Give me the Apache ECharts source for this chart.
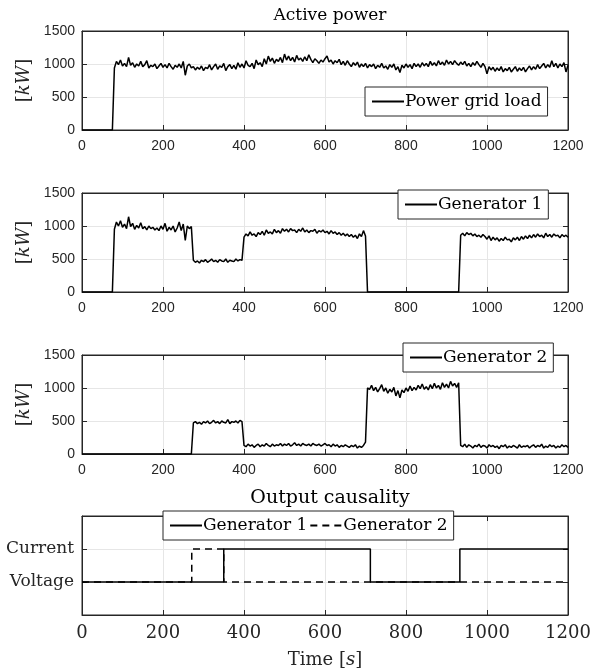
<html>
<head>
<meta charset="utf-8">
<script src="https://cdn.jsdelivr.net/npm/echarts@6/dist/echarts.min.js"></script>
<style>
  html, body, #main { width: 100%; height: 100%; margin: 0; background: #fff; }
</style>
</head>
<body>
<div id="main"></div>
<script>
// sampled every timeStep seconds, t = 0 .. 1200
var timeStep = 5;

var loadValues = [
  0,0,0,0,0,0,0,0,0,0,0,0,0,0,0,0,940,1040,990,1060,
  970,1010,960,1100,980,1020,950,1000,970,1040,960,990,1050,940,980,960,1000,930,970,1010,
  950,990,940,1010,960,920,980,950,1000,940,1040,830,970,1000,940,960,910,950,920,970,
  900,950,930,990,910,960,1000,920,970,950,1010,900,960,990,930,980,920,1020,950,1000,
  940,1050,980,960,1010,930,1060,990,1020,960,1080,1000,1120,1040,1090,1010,1070,1040,1100,1020,
  1150,1060,1120,1050,1100,1030,1130,1060,1090,1040,1110,1050,1140,1070,1020,1080,1050,1010,1060,1030,
  1080,1120,1030,1060,1000,1050,1020,1070,990,1040,980,1050,1000,960,1020,980,1030,950,1000,960,
  1010,940,990,960,1000,930,980,950,1010,940,970,920,990,950,1000,910,960,870,980,940,
  1000,950,990,930,1010,960,1000,950,1020,970,1010,960,1040,980,1020,970,1050,990,1030,980,
  1060,1000,1040,990,1050,1010,980,1030,990,1040,970,1010,960,1020,980,1040,990,950,1010,960,
  850,960,910,950,890,940,900,960,880,930,900,950,880,920,960,890,940,900,950,880,
  930,970,910,960,920,990,930,970,1010,940,990,950,1050,960,1010,940,1000,960,1020,880,
  980
];

var gen1Values = [
  0,0,0,0,0,0,0,0,0,0,0,0,0,0,0,0,950,1060,1000,1080,
  980,1030,960,1140,990,1040,950,1010,970,1050,960,990,940,1000,960,980,940,970,930,1000,
  950,1040,920,980,940,1000,910,970,1060,930,1030,780,1000,960,990,480,450,470,440,480,
  460,490,450,470,500,460,480,450,490,470,460,500,450,480,470,460,500,470,490,480,
  830,880,850,910,860,880,840,900,870,920,860,940,890,910,880,950,900,930,890,960,
  920,950,910,960,930,940,900,950,920,970,910,940,900,930,920,950,890,930,910,940,
  900,920,880,930,890,910,870,900,860,890,850,880,840,870,830,860,810,880,840,930,
  850,0,0,0,0,0,0,0,0,0,0,0,0,0,0,0,0,0,0,0,
  0,0,0,0,0,0,0,0,0,0,0,0,0,0,0,0,0,0,0,0,
  0,0,0,0,0,0,0,860,890,850,900,870,890,850,880,840,860,830,870,840,
  800,850,780,830,790,820,770,810,780,830,790,800,760,820,790,830,780,840,800,850,
  810,860,820,870,830,880,840,860,820,890,840,870,830,880,850,860,820,870,840,860,
  830
];

var gen2Values = [
  0,0,0,0,0,0,0,0,0,0,0,0,0,0,0,0,0,0,0,0,
  0,0,0,0,0,0,0,0,0,0,0,0,0,0,0,0,0,0,0,0,
  0,0,0,0,0,0,0,0,0,0,0,0,0,0,0,470,490,460,480,450,
  490,470,500,460,480,510,470,490,460,500,480,470,520,460,490,480,500,470,510,490,
  130,110,150,120,140,100,130,150,110,140,120,160,130,110,150,120,140,130,160,120,
  150,130,160,120,140,170,130,150,120,160,140,130,150,120,160,140,130,150,120,140,
  160,130,140,110,150,120,140,100,130,110,140,120,100,130,110,140,90,120,100,130,
  180,1000,980,1040,960,1010,940,990,1050,950,1000,920,980,940,1010,880,960,850,970,930,
  1000,950,1030,960,1010,970,1040,990,1060,980,1020,970,1050,990,1070,1000,1040,980,1080,1010,
  1060,1000,1100,1030,1070,1010,1080,130,110,150,100,140,120,90,130,110,150,100,130,120,
  90,140,110,130,100,120,80,130,110,140,90,120,100,130,110,90,140,100,120,110,
  130,90,120,140,100,130,110,150,90,120,100,140,110,130,90,120,100,140,110,130,
  100
];

// output causality: 0 = Voltage, 1 = Current (switch times in s)
var gen1CausTimes = [0, 350, 712, 933, 1200];
var gen1CausLevels = [0, 1, 0, 1, 1];
var gen2CausTimes = [0, 271, 350, 1200];
var gen2CausLevels = [0, 1, 0, 0];
var causalityLabels = ['Voltage', 'Current'];

var xTicks = [0, 1200, 200];
var powerTicks = [0, 1500, 500];

function sampled(values) {
  return values.map(function (v, i) { return [i * timeStep, v]; });
}
function zipped(ts, vs) {
  return ts.map(function (t, i) { return [t, vs[i]]; });
}
function plain(v) { return String(v); }

var ink = '#262626';
var serif = '"DejaVu Serif", "Liberation Serif", serif';
var sans = '"Liberation Sans", Arial, sans-serif';
var gridTops = [31, 193, 355, 516];

var grids = gridTops.map(function (t) {
  return { left: 82, width: 486, top: t, height: 99, show: true, borderColor: ink, borderWidth: 1, backgroundColor: '#fff' };
});

var tickStyle = { show: true, inside: true, length: 5, lineStyle: { color: ink } };
var lineStyleAx = { show: true, onZero: false, lineStyle: { color: ink } };

var xAxes = [], yAxes = [];
gridTops.forEach(function (t, g) {
  var last = g === 3;
  xAxes.push({
    type: 'value', gridIndex: g, min: xTicks[0], max: xTicks[1], interval: xTicks[2],
    axisLine: lineStyleAx, axisTick: tickStyle,
    splitLine: { lineStyle: { color: '#e6e6e6' } },
    axisLabel: last
      ? { color: ink, fontFamily: serif, fontSize: 18, margin: 9, formatter: plain }
      : { color: ink, fontFamily: sans, fontSize: 14, margin: 9, formatter: plain },
    name: last ? '{a|Time [}{b|s}{a|]}' : '',
    nameLocation: 'middle', nameGap: 36,
    nameTextStyle: { rich: {
      a: { fontFamily: serif, fontSize: 18, color: ink },
      b: { fontFamily: serif, fontSize: 18, fontStyle: 'italic', color: ink }
    } }
  });
  xAxes.push({
    type: 'value', gridIndex: g, position: 'top', min: xTicks[0], max: xTicks[1], interval: xTicks[2],
    axisLine: lineStyleAx, axisTick: tickStyle,
    splitLine: { show: false }, axisLabel: { show: false }
  });
  if (!last) {
    yAxes.push({
      type: 'value', gridIndex: g, min: powerTicks[0], max: powerTicks[1], interval: powerTicks[2],
      axisLine: lineStyleAx, axisTick: tickStyle,
      splitLine: { lineStyle: { color: '#e6e6e6' } },
      axisLabel: { color: ink, fontFamily: sans, fontSize: 14, margin: 7, formatter: plain },
      name: '[{b|kW}]', nameLocation: 'middle', nameGap: 46,
      nameTextStyle: { fontFamily: serif, fontSize: 18, color: ink, rich: {
        b: { fontFamily: serif, fontSize: 18, fontStyle: 'italic', color: ink }
      } }
    });
    yAxes.push({
      type: 'value', gridIndex: g, position: 'right', min: powerTicks[0], max: powerTicks[1], interval: powerTicks[2],
      axisLine: lineStyleAx, axisTick: tickStyle,
      splitLine: { show: false }, axisLabel: { show: false }
    });
  } else {
    yAxes.push({
      type: 'value', gridIndex: g, min: -1, max: 2, interval: 1,
      axisLine: lineStyleAx, axisTick: tickStyle,
      splitLine: { lineStyle: { color: '#e6e6e6' } },
      axisLabel: { color: ink, fontFamily: serif, fontSize: 17, margin: 8,
        formatter: function (v) { return causalityLabels[v] || ''; } }
    });
    yAxes.push({
      type: 'value', gridIndex: g, position: 'right', min: -1, max: 2, interval: 1,
      axisLine: lineStyleAx, axisTick: tickStyle,
      splitLine: { show: false }, axisLabel: { show: false }
    });
  }
});

function powerSeries(name, values, g) {
  return {
    name: name, type: 'line', xAxisIndex: g * 2, yAxisIndex: g * 2,
    data: sampled(values), symbol: 'none', animation: false,
    lineStyle: { color: '#000', width: 1.5 }, itemStyle: { color: '#000' }
  };
}

var legendBase = {
  orient: 'horizontal', backgroundColor: '#fff', borderColor: ink, borderWidth: 1,
  padding: [6, 6, 6, 6], itemWidth: 32, itemHeight: 10, itemGap: 2,
  itemStyle: { opacity: 0 },
  textStyle: { fontFamily: serif, fontSize: 17, color: '#000', padding: [0, 0, 0, -4] },
  formatter: function (n) { return n.trim(); }
};

var option = {
  animation: false,
  title: [
    { text: 'Active power', left: 325, top: 2, textAlign: 'center',
      textStyle: { fontFamily: serif, fontSize: 17, fontWeight: 'normal', color: '#000' } },
    { text: 'Output causality', left: 325, top: 484, textAlign: 'center',
      textStyle: { fontFamily: serif, fontSize: 19, fontWeight: 'normal', color: '#000' } }
  ],
  legend: [
    Object.assign({}, legendBase, { data: ['Power grid load'], left: 365, top: 87 }),
    Object.assign({}, legendBase, { data: ['Generator 1'], left: 398, top: 190 }),
    Object.assign({}, legendBase, { data: ['Generator 2'], left: 403, top: 343 }),
    Object.assign({}, legendBase, { data: ['Generator 1 ', 'Generator 2 '], left: 163, top: 511 })
  ],
  grid: grids,
  xAxis: xAxes,
  yAxis: yAxes,
  series: [
    powerSeries('Power grid load', loadValues, 0),
    powerSeries('Generator 1', gen1Values, 1),
    powerSeries('Generator 2', gen2Values, 2),
    {
      name: 'Generator 2 ', type: 'line', xAxisIndex: 6, yAxisIndex: 6, step: 'end',
      data: zipped(gen2CausTimes, gen2CausLevels), symbol: 'none',
      lineStyle: { color: '#000', width: 1.5, type: [7, 5] }, itemStyle: { color: '#000' }
    },
    {
      name: 'Generator 1 ', type: 'line', xAxisIndex: 6, yAxisIndex: 6, step: 'end',
      data: zipped(gen1CausTimes, gen1CausLevels), symbol: 'none',
      lineStyle: { color: '#000', width: 1.5 }, itemStyle: { color: '#000' }
    }
  ]
};

var chart = echarts.init(document.getElementById('main'));
chart.setOption(option);
window.onresize = function () { chart.resize(); };
</script>
</body>
</html>
